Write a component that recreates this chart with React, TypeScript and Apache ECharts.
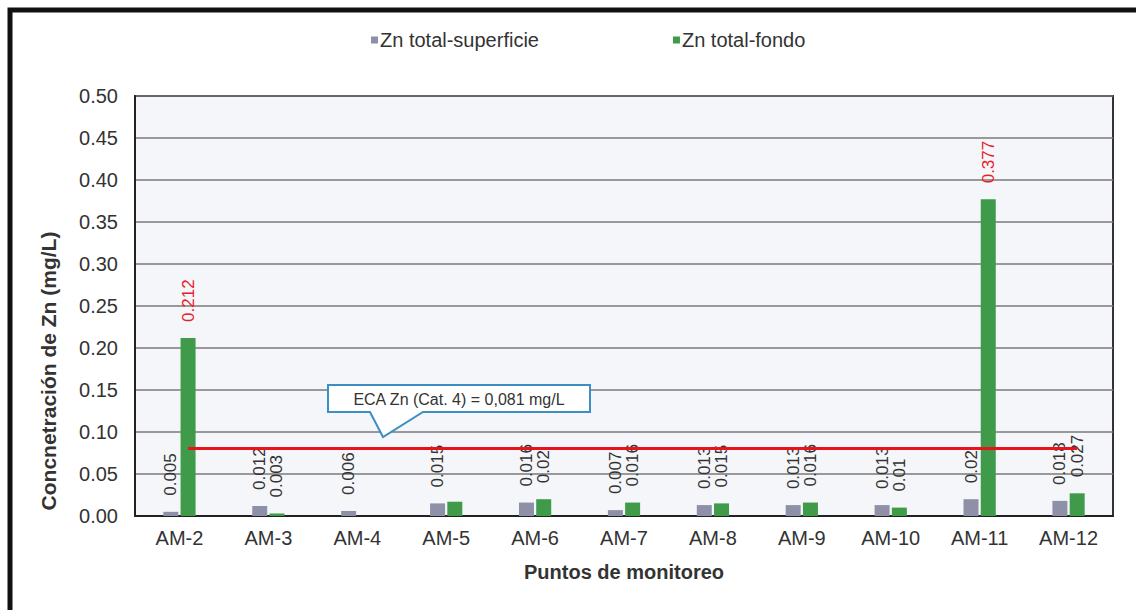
import React, { useEffect, useRef } from "react";
import * as echarts from "echarts";

const categories = ["AM-2", "AM-3", "AM-4", "AM-5", "AM-6", "AM-7", "AM-8", "AM-9", "AM-10", "AM-11", "AM-12"];
const superficie: (number | null)[] = [0.005, 0.012, 0.006, 0.015, 0.016, 0.007, 0.013, 0.013, 0.013, 0.02, 0.018];
const fondo: (number | null)[] = [0.212, 0.003, null, 0.017, 0.02, 0.016, 0.015, 0.016, 0.01, 0.377, 0.027];
const fondoLabelHidden = ["AM-5"];
const ecaValue = 0.081;
const ecaText = "ECA Zn (Cat. 4) = 0,081 mg/L";
const yTitle = "Concnetración de Zn (mg/L)";
const yTicks = [0, 0.05, 0.1, 0.15, 0.2, 0.25, 0.3, 0.35, 0.4, 0.45, 0.5];

const FONT = "Liberation Sans, Arial, sans-serif";

export default function App() {
  const ref = useRef<HTMLDivElement>(null);
  useEffect(() => {
    if (!ref.current) return;
    const chart = echarts.init(ref.current, null, { renderer: "svg" });
    const labelBase = {
      show: true,
      position: "top" as const,
      rotate: 90,
      align: "left" as const,
      verticalAlign: "middle" as const,
      distance: 16,
      fontSize: 17,
      fontFamily: FONT,
      color: "#333",
      formatter: (p: any) => String(p.value),
    };
    chart.setOption({
      animation: false,
      backgroundColor: "#ffffff",
      textStyle: { fontFamily: FONT },
      graphic: [
        {
          type: "rect",
          shape: { x: 10, y: 10, width: 1200, height: 700 },
          style: { fill: "none", stroke: "#111", lineWidth: 5 },
          silent: true,
        },
        {
          type: "text",
          x: 48,
          y: 371,
          rotation: Math.PI / 2,
          style: {
            text: yTitle,
            fontSize: 21,
            fontWeight: "bold",
            fill: "#333",
            align: "center",
            verticalAlign: "middle",
            fontFamily: FONT,
          },
        },
        {
          type: "polygon",
          shape: {
            points: [
              [328, 385], [590, 385], [590, 412], [423, 412], [383, 437], [370, 412], [328, 412],
            ],
          },
          style: { fill: "#ffffff", stroke: "#3d8ec4", lineWidth: 2 },
          z: 100,
        },
        {
          type: "text",
          x: 459,
          y: 399,
          style: {
            text: ecaText,
            fontSize: 16,
            fill: "#333",
            align: "center",
            verticalAlign: "middle",
            fontFamily: FONT,
          },
          z: 101,
        },
      ],
      legend: {
        left: 366,
        top: 25,
        itemGap: 134,
        itemWidth: 7,
        itemHeight: 7,
        icon: "rect",
        textStyle: { fontSize: 20, color: "#333", padding: [0, 0, 0, -3] },
        data: ["Zn total-superficie", "Zn total-fondo"],
      },
      grid: {
        left: 135,
        right: 23,
        top: 96,
        bottom: 94,
        show: true,
        backgroundColor: "#f5f6f9",
        borderColor: "#333",
        borderWidth: 2,
      },
      xAxis: {
        type: "category",
        data: categories,
        name: "Puntos de monitoreo",
        nameLocation: "middle",
        nameGap: 46,
        nameTextStyle: { fontSize: 20, fontWeight: "bold", color: "#333" },
        axisLine: { lineStyle: { color: "#222", width: 2 } },
        axisTick: { show: false },
        axisLabel: { fontSize: 20, color: "#333", margin: 12 },
      },
      yAxis: {
        type: "value",
        min: yTicks[0],
        max: yTicks[yTicks.length - 1],
        interval: 0.05,
        axisLine: { show: true, lineStyle: { color: "#222", width: 2 } },
        axisTick: { show: false },
        axisLabel: { fontSize: 20, color: "#333", margin: 17, formatter: (v: number) => v.toFixed(2) },
        splitLine: { lineStyle: { color: "#7a7a7a", width: 1.5 } },
      },
      series: [
        {
          name: "Zn total-superficie",
          type: "bar",
          barWidth: 15,
          barGap: "15%",
          itemStyle: { color: "#8e90a8" },
          data: superficie,
          label: labelBase,
        },
        {
          name: "Zn total-fondo",
          type: "bar",
          barWidth: 15,
          itemStyle: { color: "#3f9a4a" },
          data: fondo.map((v, i) => ({
            value: v,
            label: {
              show: v !== null && !fondoLabelHidden.includes(categories[i]),
              color: v !== null && v > ecaValue ? "#e8202a" : "#333",
            },
          })),
          label: labelBase,
          markLine: {
            silent: true,
            symbol: ["none", "none"],
            lineStyle: { color: "#e8141c", width: 3, type: "solid" },
            label: { show: false },
            data: [
              [
                { coord: [categories[0], ecaValue] },
                { coord: [categories[categories.length - 1], ecaValue] },
              ],
            ],
            z: 50,
          },
        },
      ],
    });
    return () => chart.dispose();
  }, []);
  return (
    <div
      ref={ref}
      style={{ position: "fixed", left: 0, top: 0, width: 1136, height: 610 }}
    />
  );
}
